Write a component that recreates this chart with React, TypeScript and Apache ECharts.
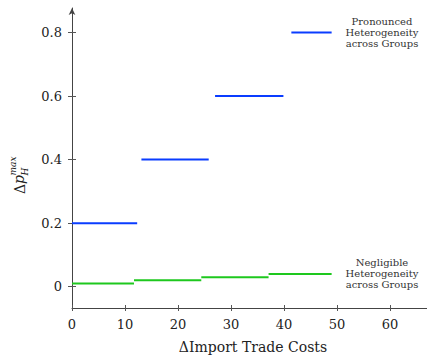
import React, { useEffect, useRef } from "react";
import * as echarts from "echarts";

const xTicks = [0, 10, 20, 30, 40, 50, 60];
const yTicks = [0, 0.2, 0.4, 0.6, 0.8];

// Pronounced heterogeneity (blue) step segments
const blueStarts = [0, 13.1, 27.0, 41.4];
const blueEnds = [12.3, 25.8, 39.9, 49.0];
const blueValues = [0.2, 0.4, 0.6, 0.8];

// Negligible heterogeneity (green) step segments
const greenStarts = [0, 11.7, 24.4, 37.1];
const greenEnds = [11.7, 24.4, 37.1, 49.0];
const greenValues = [0.01, 0.02, 0.03, 0.04];

const labelPronounced = "Pronounced\nHeterogeneity\nacross Groups";
const labelNegligible = "Negligible\nHeterogeneity\nacross Groups";
const xTitle = "ΔImport Trade Costs";

const BLUE = "#0a3cff";
const GREEN = "#1ec81e";
const SERIF = "DejaVu Serif";

function segs(starts: number[], ends: number[], vals: number[], color: string, name: string) {
  return starts.map((s, i) => ({
    type: "line",
    name,
    data: [
      [s, vals[i]],
      [ends[i], vals[i]],
    ],
    symbol: "none",
    lineStyle: { color, width: 2 },
    xAxisIndex: 0,
    yAxisIndex: 0,
    silent: true,
  }));
}

export default function App() {
  const ref = useRef<HTMLDivElement>(null);
  useEffect(() => {
    if (!ref.current) return;
    const chart = echarts.init(ref.current, null, { renderer: "svg" });
    const axisCommon = {
      type: "value",
      splitLine: { show: false },
    };
    const xMin = 0, xMax = 67;
    const yMin = -0.067, yMax = 0.877;
    chart.setOption({
      animation: false,
      backgroundColor: "#ffffff",
      grid: { left: 72, right: 0, top: 8, bottom: 48, containLabel: false },
      xAxis: [
        {
          ...axisCommon,
          min: xMin,
          max: xMax,
          position: "bottom",
          axisLine: { show: true, onZero: false, lineStyle: { color: "#444", width: 1 } },
          axisTick: { show: true, length: 3, customValues: xTicks, lineStyle: { color: "#555" } },
          axisLabel: {
            show: true,
            customValues: xTicks,
            margin: 10,
            fontFamily: SERIF,
            fontSize: 13,
            color: "#222",
          },
        },
        {
          ...axisCommon,
          min: xMin,
          max: xMax,
          position: "bottom",
          axisLine: { show: false, onZero: false },
          axisTick: { show: true, inside: true, length: 3, customValues: xTicks, lineStyle: { color: "#555" } },
          axisLabel: { show: false },
        },
      ],
      yAxis: [
        {
          ...axisCommon,
          min: yMin,
          max: yMax,
          position: "left",
          axisLine: {
            show: true,
            onZero: false,
            symbol: ["none", "arrow"],
            symbolSize: [5, 7],
            lineStyle: { color: "#444", width: 1 },
          },
          axisTick: { show: true, length: 4, customValues: yTicks, lineStyle: { color: "#555" } },
          axisLabel: {
            show: true,
            customValues: yTicks,
            margin: 10,
            fontFamily: SERIF,
            fontSize: 13,
            color: "#222",
            formatter: (v: number) => (v === 0 ? "0" : v.toFixed(1)),
          },
        },
        {
          ...axisCommon,
          min: yMin,
          max: yMax,
          position: "left",
          axisLine: { show: false, onZero: false },
          axisTick: { show: true, inside: true, length: 4, customValues: yTicks, lineStyle: { color: "#555" } },
          axisLabel: { show: false },
        },
      ],
      series: [
        ...segs(blueStarts, blueEnds, blueValues, BLUE, "Pronounced"),
        ...segs(greenStarts, greenEnds, greenValues, GREEN, "Negligible"),
      ],
      graphic: [
        {
          type: "text",
          x: 382,
          y: 32,
          style: {
            text: labelPronounced,
            fontFamily: SERIF,
            fontSize: 10,
            lineHeight: 11,
            align: "center",
            verticalAlign: "middle",
            fill: "#333",
          },
        },
        {
          type: "text",
          x: 382,
          y: 273,
          style: {
            text: labelNegligible,
            fontFamily: SERIF,
            fontSize: 10,
            lineHeight: 11,
            align: "center",
            verticalAlign: "middle",
            fill: "#333",
          },
        },
        {
          type: "text",
          x: 253,
          y: 347,
          style: {
            text: xTitle,
            fontFamily: SERIF,
            fontSize: 14,
            align: "center",
            verticalAlign: "middle",
            fill: "#222",
          },
        },
        {
          type: "group",
          x: 20,
          y: 168,
          rotation: Math.PI / 2,
          children: [
            {
              type: "text",
              x: -26,
              y: 0,
              style: { text: "Δ", fontFamily: SERIF, fontSize: 14, fill: "#222", verticalAlign: "middle" },
            },
            {
              type: "text",
              x: -16,
              y: -1,
              style: { text: "p", fontFamily: SERIF, fontStyle: "italic", fontSize: 14, fill: "#222", verticalAlign: "middle" },
            },
            {
              type: "text",
              x: -7.5,
              y: 5,
              style: { text: "H", fontFamily: SERIF, fontStyle: "italic", fontSize: 9, fill: "#222", verticalAlign: "middle" },
            },
            {
              type: "text",
              x: -7.5,
              y: -7,
              style: { text: "max", fontFamily: SERIF, fontStyle: "italic", fontSize: 9, fill: "#222", verticalAlign: "middle" },
            },
          ],
        },
      ],
    });
    return () => chart.dispose();
  }, []);
  return (
    <div
      ref={ref}
      style={{ position: "absolute", left: 0, top: 0, width: 427, height: 356 }}
    />
  );
}
